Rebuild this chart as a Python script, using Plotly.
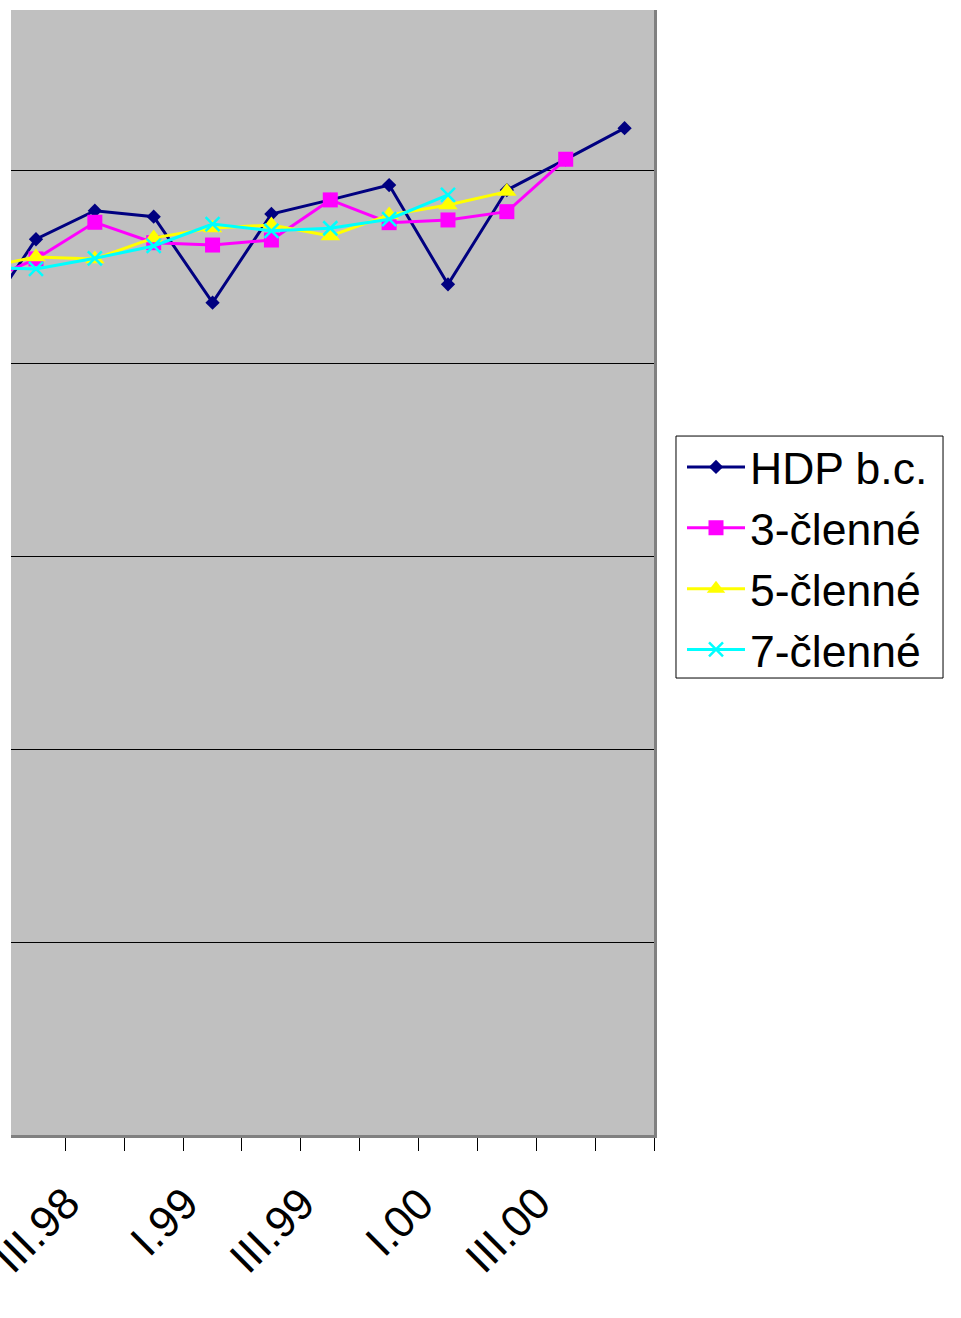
import plotly.graph_objects as go

# Quarterly categories (the first one lies just left of the visible window)
quarters = ["II.98", "III.98", "IV.98", "I.99", "II.99", "III.99",
            "IV.99", "I.00", "II.00", "III.00", "IV.00", "I.01"]

# Original series and centred moving averages
hdp_bc = [4.190, 4.646, 4.794, 4.763, 4.317, 4.777,
          4.850, 4.927, 4.412, 4.901, 5.060, 5.222]
ma3 = [4.409, 4.544, 4.734, 4.628, 4.616, 4.642,
       4.850, 4.732, 4.746, 4.789, 5.061, None]
ma5 = [4.492, 4.554, 4.544, 4.653, 4.704, 4.720,
       4.663, 4.772, 4.824, 4.893, None, None]
ma7 = [4.500, 4.492, 4.547, 4.611, 4.725, 4.690,
       4.703, 4.750, 4.876, None, None, None]

# Axis labels shown under the category axis (every second quarter)
axis_labels = ["III.98", "I.99", "III.99", "I.00", "III.00"]

FONT = "Arial, 'Liberation Sans', sans-serif"
xpos = list(range(len(quarters)))

series = [
    ("HDP b.c.", hdp_bc, "#000080", dict(symbol="diamond", size=11)),
    ("3-členné", ma3, "#FF00FF", dict(symbol="square", size=15)),
    ("5-členné", ma5, "#FFFF00", dict(symbol="triangle-up", size=17)),
    ("7-členné", ma7, "#00FFFF", dict(symbol="x-thin", size=14)),
]

fig = go.Figure()
for name, vals, color, mk in series:
    marker = dict(color=color, **mk)
    if mk["symbol"] == "x-thin":
        marker["line"] = dict(color=color, width=2.5)
    fig.add_trace(go.Scatter(
        x=xpos, y=vals, name=name, mode="lines+markers",
        line=dict(color=color, width=3), marker=marker,
        connectgaps=False,
    ))

# Rotated category labels, anchored by their end just below the axis
for lab in axis_labels:
    fig.add_annotation(
        x=quarters.index(lab), xref="x", y=-0.0382, yref="paper",
        xanchor="right", yanchor="top", xshift=53,
        text=lab, textangle=-45, showarrow=False,
        borderpad=0, borderwidth=0,
        font=dict(family=FONT, size=44, color="black"),
    )

# Legend frame
fig.add_shape(
    type="rect", xref="paper", yref="paper",
    x0=1.0342, x1=1.4495, y0=0.4062, y1=0.6213,
    line=dict(color="black", width=1), fillcolor="white", layer="below",
)

boundaries = [i + 0.5 for i in range(len(quarters))]

fig.update_layout(
    width=961, height=1318,
    margin=dict(l=11, r=307, t=10, b=183),
    paper_bgcolor="white", plot_bgcolor="#C0C0C0",
    font=dict(family=FONT, color="black"),
    showlegend=True,
    legend=dict(
        x=1.04355, y=0.62533, xanchor="left", yanchor="top",
        bgcolor="rgba(0,0,0,0)", borderwidth=0,
        font=dict(family=FONT, size=44.5, color="black"),
        itemwidth=58,
    ),
    xaxis=dict(
        range=[0.5756, 11.5], showgrid=False, zeroline=False,
        showline=True, linecolor="#808080", linewidth=3,
        tickmode="array", tickvals=boundaries, showticklabels=False,
        ticks="outside", ticklen=13, tickcolor="black", tickwidth=1,
    ),
    yaxis=dict(
        range=[0, 5.835], tick0=0, dtick=1, side="right",
        showgrid=True, gridcolor="black", gridwidth=1,
        zeroline=False, showticklabels=False, ticks="",
        showline=True, linecolor="#808080", linewidth=3,
    ),
)

fig.write_html("out.html")
